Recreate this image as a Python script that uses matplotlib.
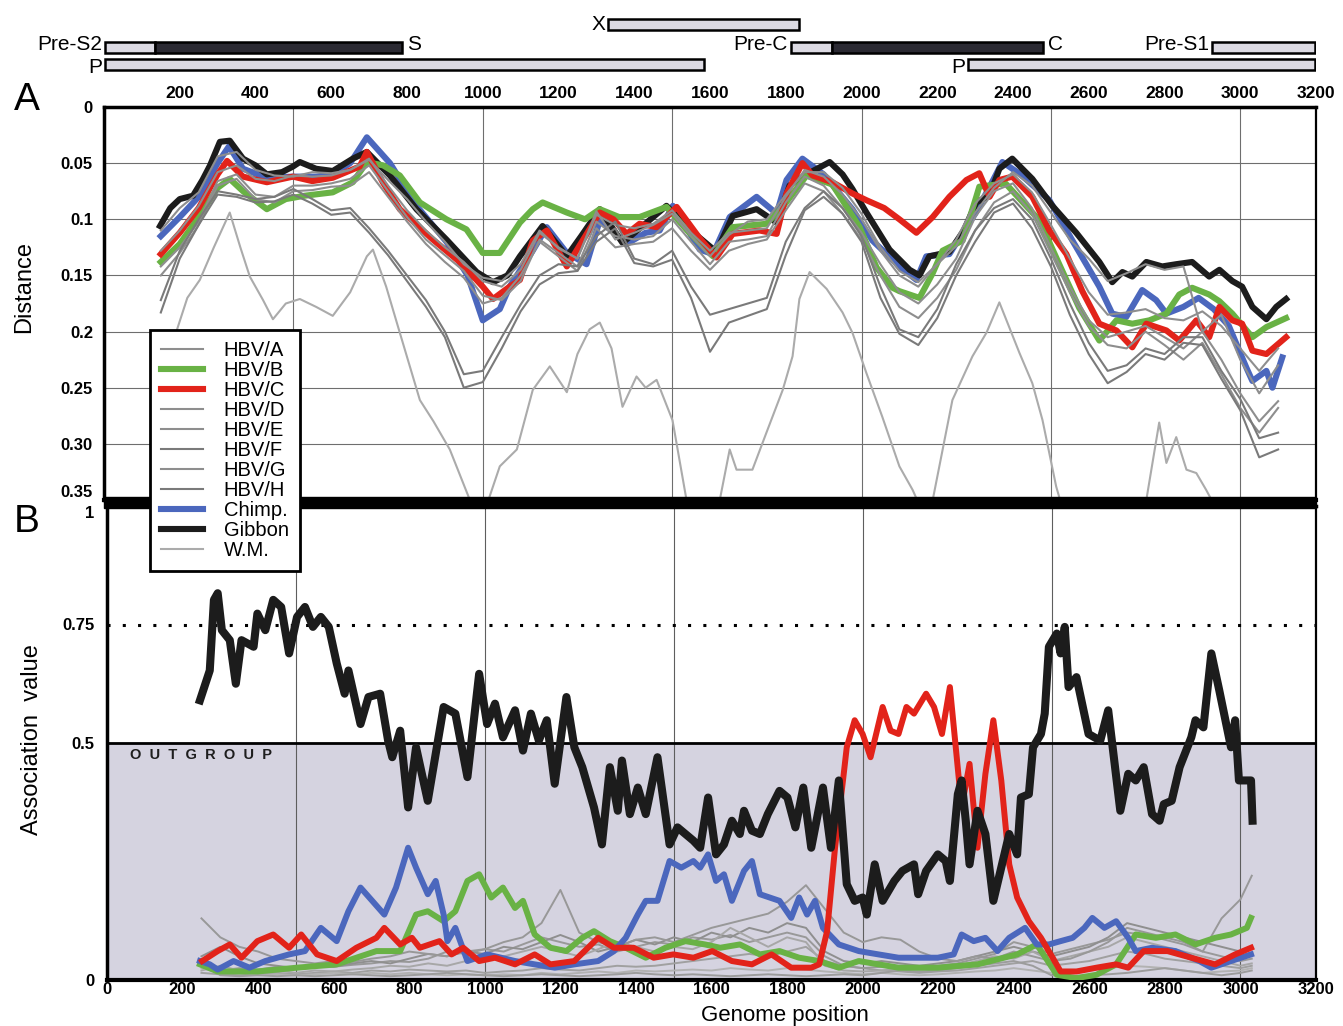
import matplotlib.pyplot as plt
from matplotlib.patches import Rectangle

plt.rcParams['font.family'] = ['Liberation Sans', 'DejaVu Sans']

# ---------------- genome map ----------------
gene_names = ["X", "Pre-S2", "S", "P", "Pre-C", "C", "Pre-S1", "P"]
gene_start = [1330, 3, 135, 3, 1813, 1923, 2926, 2282]
gene_end = [1836, 135, 786, 1583, 1923, 2478, 3198, 3198]
gene_row = [0, 1, 1, 2, 1, 1, 1, 2]
gene_dark = [False, False, True, False, False, True, False, False]
gene_label_side = ["left", "left", "right", "left", "left", "right", "left", "left"]

# ---------------- panel A: distance ----------------
gibbon_a_pos = [148, 175, 200, 235, 260, 280, 306, 332, 367, 400,
                430, 470, 499, 517, 560, 604, 657, 694, 755, 825,
                904, 984, 1027, 1065, 1098, 1158, 1222, 1260, 1309, 1369,
                1422, 1485, 1546, 1617, 1660, 1723, 1776, 1810, 1855, 1916,
                1950, 1976, 2013, 2074, 2127, 2153, 2179, 2232, 2270, 2303,
                2338, 2364, 2398, 2451, 2504, 2567, 2628, 2662, 2689, 2715,
                2752, 2794, 2831, 2873, 2918, 2945, 2979, 3005, 3032, 3069,
                3095, 3121]
gibbon_a = [0.106, 0.090, 0.082, 0.079, 0.065, 0.052, 0.031, 0.030, 0.046, 0.052,
            0.060, 0.058, 0.053, 0.049, 0.055, 0.057, 0.046, 0.040, 0.061, 0.091,
            0.118, 0.147, 0.156, 0.150, 0.133, 0.106, 0.133, 0.115, 0.091, 0.121,
            0.106, 0.088, 0.109, 0.129, 0.097, 0.091, 0.103, 0.070, 0.060, 0.049,
            0.060, 0.073, 0.094, 0.127, 0.145, 0.150, 0.133, 0.129, 0.110, 0.085,
            0.079, 0.055, 0.046, 0.064, 0.088, 0.112, 0.138, 0.156, 0.147, 0.151,
            0.138, 0.142, 0.140, 0.138, 0.151, 0.145, 0.155, 0.160, 0.178, 0.189,
            0.178, 0.171]

hbvc_a_pos = [150, 200, 250, 300, 325, 367, 430, 499, 550, 604,
              675, 694, 736, 781, 868, 939, 1000, 1027, 1071, 1098,
              1132, 1169, 1222, 1309, 1345, 1380, 1414, 1459, 1512, 1573,
              1617, 1660, 1731, 1776, 1802, 1844, 1871, 1923, 1976, 2013,
              2060, 2100, 2145, 2188, 2232, 2277, 2311, 2338, 2364, 2398,
              2451, 2496, 2541, 2583, 2628, 2673, 2715, 2752, 2805, 2839,
              2884, 2918, 2945, 2979, 3005, 3032, 3069, 3121]
hbvc_a = [0.131, 0.112, 0.090, 0.060, 0.048, 0.062, 0.067, 0.062, 0.066, 0.063,
          0.053, 0.040, 0.067, 0.091, 0.118, 0.138, 0.160, 0.171, 0.160, 0.154,
          0.119, 0.110, 0.142, 0.094, 0.100, 0.113, 0.104, 0.107, 0.089, 0.117,
          0.134, 0.113, 0.110, 0.113, 0.077, 0.050, 0.061, 0.067, 0.077, 0.083,
          0.090, 0.100, 0.112, 0.098, 0.080, 0.065, 0.059, 0.080, 0.065, 0.062,
          0.080, 0.110, 0.131, 0.164, 0.193, 0.199, 0.214, 0.193, 0.199, 0.208,
          0.190, 0.205, 0.178, 0.190, 0.193, 0.217, 0.220, 0.205]

chimp_a_pos = [150, 200, 250, 300, 330, 367, 430, 499, 560, 604,
               650, 694, 755, 825, 904, 960, 1000, 1045, 1071, 1132,
               1169, 1222, 1274, 1309, 1380, 1430, 1467, 1502, 1573, 1608,
               1652, 1723, 1776, 1802, 1844, 1900, 1976, 2029, 2082, 2100,
               2145, 2171, 2232, 2300, 2340, 2372, 2420, 2496, 2557, 2628,
               2662, 2699, 2741, 2778, 2805, 2850, 2890, 2930, 2970, 3016,
               3032, 3069, 3085, 3111]
chimp_a = [0.115, 0.098, 0.080, 0.050, 0.035, 0.055, 0.063, 0.062, 0.062, 0.060,
           0.050, 0.027, 0.050, 0.088, 0.120, 0.150, 0.190, 0.180, 0.160, 0.128,
           0.107, 0.130, 0.140, 0.101, 0.122, 0.112, 0.110, 0.088, 0.127, 0.131,
           0.098, 0.080, 0.095, 0.065, 0.046, 0.060, 0.091, 0.119, 0.136, 0.142,
           0.154, 0.133, 0.131, 0.095, 0.070, 0.049, 0.060, 0.083, 0.119, 0.160,
           0.184, 0.187, 0.163, 0.172, 0.184, 0.178, 0.170, 0.180, 0.195, 0.232,
           0.244, 0.235, 0.250, 0.223]

hbvb_a_pos = [150, 200, 250, 300, 332, 367, 430, 480, 530, 604,
              657, 694, 737, 781, 834, 904, 957, 1000, 1045, 1098,
              1132, 1158, 1222, 1270, 1309, 1360, 1414, 1485, 1540, 1608,
              1660, 1749, 1792, 1855, 1923, 1995, 2040, 2082, 2100, 2153,
              2188, 2214, 2267, 2303, 2311, 2380, 2470, 2522, 2575, 2628,
              2673, 2715, 2760, 2805, 2839, 2873, 2918, 2945, 2979, 3032,
              3069, 3121]
hbvb_a = [0.138, 0.122, 0.098, 0.072, 0.064, 0.075, 0.091, 0.082, 0.079, 0.076,
          0.067, 0.049, 0.052, 0.061, 0.085, 0.100, 0.109, 0.130, 0.130, 0.103,
          0.091, 0.085, 0.094, 0.100, 0.091, 0.098, 0.098, 0.089, 0.110, 0.133,
          0.107, 0.104, 0.089, 0.061, 0.069, 0.107, 0.143, 0.161, 0.164, 0.170,
          0.148, 0.128, 0.119, 0.080, 0.071, 0.068, 0.101, 0.140, 0.179, 0.208,
          0.190, 0.193, 0.190, 0.184, 0.167, 0.161, 0.167, 0.173, 0.184, 0.205,
          0.196, 0.188]

# remaining genotypes, read every 50 nt from 150 to 3100
grey_a_pos = list(range(150, 3101, 50))
hbva_a = [0.128, 0.110, 0.088, 0.058, 0.052, 0.064, 0.066, 0.061, 0.062, 0.061,
          0.056, 0.046, 0.070, 0.092, 0.110, 0.125, 0.138, 0.155, 0.160, 0.145,
          0.112, 0.125, 0.135, 0.096, 0.105, 0.108, 0.104, 0.092, 0.112, 0.128,
          0.112, 0.110, 0.108, 0.080, 0.056, 0.062, 0.078, 0.100, 0.128, 0.150,
          0.160, 0.140, 0.118, 0.086, 0.068, 0.060, 0.076, 0.105, 0.135, 0.165,
          0.185, 0.183, 0.180, 0.188, 0.190, 0.182, 0.195, 0.215, 0.235, 0.215]
hbvd_a = [0.142, 0.125, 0.102, 0.066, 0.060, 0.078, 0.080, 0.070, 0.070, 0.068,
          0.064, 0.052, 0.075, 0.098, 0.118, 0.132, 0.146, 0.168, 0.172, 0.155,
          0.118, 0.130, 0.142, 0.102, 0.115, 0.118, 0.115, 0.100, 0.120, 0.140,
          0.120, 0.118, 0.115, 0.085, 0.062, 0.070, 0.090, 0.112, 0.140, 0.165,
          0.175, 0.158, 0.135, 0.098, 0.075, 0.068, 0.090, 0.125, 0.160, 0.190,
          0.205, 0.200, 0.195, 0.205, 0.215, 0.200, 0.225, 0.255, 0.280, 0.262]
hbve_a = [0.150, 0.130, 0.105, 0.070, 0.064, 0.082, 0.085, 0.075, 0.074, 0.071,
          0.070, 0.058, 0.080, 0.102, 0.122, 0.138, 0.152, 0.175, 0.170, 0.150,
          0.120, 0.133, 0.146, 0.108, 0.125, 0.122, 0.120, 0.108, 0.128, 0.145,
          0.128, 0.122, 0.118, 0.092, 0.068, 0.075, 0.095, 0.118, 0.150, 0.178,
          0.188, 0.170, 0.145, 0.110, 0.085, 0.075, 0.095, 0.130, 0.165, 0.195,
          0.212, 0.215, 0.200, 0.212, 0.225, 0.210, 0.238, 0.268, 0.290, 0.268]
hbvf_a = [0.172, 0.128, 0.100, 0.075, 0.078, 0.082, 0.080, 0.073, 0.082, 0.092,
          0.090, 0.108, 0.128, 0.150, 0.172, 0.200, 0.238, 0.235, 0.205, 0.176,
          0.150, 0.140, 0.142, 0.115, 0.102, 0.135, 0.140, 0.128, 0.160, 0.185,
          0.180, 0.175, 0.170, 0.120, 0.090, 0.075, 0.090, 0.115, 0.160, 0.198,
          0.205, 0.180, 0.140, 0.110, 0.090, 0.082, 0.100, 0.135, 0.175, 0.210,
          0.235, 0.230, 0.215, 0.220, 0.205, 0.205, 0.235, 0.260, 0.295, 0.290]
hbvg_a = [0.110, 0.090, 0.076, 0.044, 0.040, 0.056, 0.061, 0.062, 0.058, 0.059,
          0.056, 0.047, 0.065, 0.082, 0.102, 0.120, 0.140, 0.152, 0.155, 0.140,
          0.110, 0.126, 0.135, 0.093, 0.118, 0.112, 0.105, 0.095, 0.115, 0.133,
          0.114, 0.102, 0.100, 0.078, 0.058, 0.058, 0.072, 0.095, 0.125, 0.146,
          0.156, 0.140, 0.124, 0.094, 0.072, 0.058, 0.070, 0.094, 0.118, 0.135,
          0.155, 0.148, 0.140, 0.145, 0.142, 0.200, 0.185, 0.225, 0.255, 0.230]
hbvh_a = [0.183, 0.135, 0.105, 0.078, 0.080, 0.085, 0.084, 0.078, 0.086, 0.096,
          0.094, 0.112, 0.132, 0.155, 0.178, 0.205, 0.250, 0.245, 0.215, 0.182,
          0.158, 0.148, 0.146, 0.120, 0.108, 0.139, 0.142, 0.136, 0.170, 0.218,
          0.192, 0.186, 0.180, 0.132, 0.092, 0.080, 0.095, 0.120, 0.170, 0.202,
          0.212, 0.188, 0.150, 0.120, 0.094, 0.086, 0.108, 0.142, 0.185, 0.220,
          0.246, 0.236, 0.220, 0.225, 0.210, 0.212, 0.242, 0.270, 0.312, 0.305]

wm_a_pos = [150, 193, 220, 253, 290, 332, 360, 385, 420, 446,
            480, 517, 560, 604, 650, 694, 710, 745, 781, 834,
            870, 913, 966, 1000, 1045, 1090, 1132, 1177, 1222, 1250,
            1282, 1309, 1340, 1369, 1406, 1430, 1459, 1501, 1538, 1580,
            1620, 1652, 1670, 1712, 1749, 1792, 1818, 1836, 1863, 1908,
            1950, 1976, 2013, 2055, 2100, 2135, 2160, 2188, 2240, 2293,
            2330, 2364, 2417, 2451, 2478, 2514, 2550, 2650, 2752, 2786,
            2805, 2831, 2858, 2884, 2910, 2940]
wm_a = [0.262, 0.198, 0.170, 0.154, 0.125, 0.094, 0.125, 0.151, 0.172, 0.189,
        0.175, 0.171, 0.178, 0.186, 0.165, 0.133, 0.127, 0.160, 0.201, 0.261,
        0.280, 0.305, 0.350, 0.365, 0.320, 0.305, 0.252, 0.231, 0.254, 0.220,
        0.198, 0.192, 0.215, 0.267, 0.240, 0.250, 0.243, 0.279, 0.350, 0.380,
        0.360, 0.305, 0.323, 0.323, 0.290, 0.252, 0.222, 0.171, 0.147, 0.162,
        0.183, 0.201, 0.237, 0.276, 0.320, 0.341, 0.360, 0.350, 0.261, 0.222,
        0.201, 0.174, 0.219, 0.246, 0.279, 0.338, 0.380, 0.390, 0.350, 0.281,
        0.317, 0.294, 0.323, 0.326, 0.341, 0.360]

# ---------------- panel B: association value ----------------
gibbon_b_pos = [246, 272, 283, 293, 304, 325, 341, 356, 388, 398,
                419, 440, 461, 482, 503, 524, 545, 566, 587, 608,
                629, 639, 671, 692, 723, 744, 755, 776, 797, 818,
                849, 891, 922, 954, 985, 1006, 1027, 1048, 1080, 1101,
                1122, 1143, 1164, 1185, 1216, 1237, 1258, 1289, 1310, 1331,
                1352, 1363, 1384, 1405, 1426, 1457, 1489, 1510, 1552, 1570,
                1591, 1612, 1633, 1654, 1675, 1686, 1707, 1728, 1749, 1780,
                1801, 1822, 1843, 1864, 1895, 1916, 1937, 1958, 1979, 2000,
                2011, 2032, 2053, 2084, 2105, 2136, 2147, 2168, 2199, 2220,
                2231, 2252, 2262, 2273, 2283, 2304, 2325, 2346, 2367, 2388,
                2409, 2419, 2440, 2451, 2472, 2482, 2493, 2514, 2524, 2535,
                2545, 2566, 2598, 2629, 2650, 2682, 2703, 2723, 2744, 2766,
                2786, 2797, 2818, 2839, 2870, 2881, 2902, 2923, 2944, 2975,
                2986, 2996, 3028, 3032]
gibbon_b = [0.590, 0.653, 0.802, 0.816, 0.738, 0.717, 0.625, 0.717, 0.703, 0.773,
            0.738, 0.802, 0.787, 0.689, 0.766, 0.787, 0.745, 0.766, 0.745, 0.668,
            0.604, 0.653, 0.540, 0.597, 0.604, 0.505, 0.470, 0.526, 0.364, 0.491,
            0.378, 0.576, 0.562, 0.428, 0.646, 0.540, 0.583, 0.512, 0.569, 0.484,
            0.562, 0.505, 0.548, 0.414, 0.597, 0.491, 0.449, 0.364, 0.286, 0.449,
            0.357, 0.463, 0.350, 0.406, 0.350, 0.470, 0.286, 0.322, 0.294, 0.279,
            0.385, 0.265, 0.286, 0.336, 0.308, 0.357, 0.315, 0.308, 0.350, 0.399,
            0.385, 0.322, 0.406, 0.279, 0.406, 0.279, 0.421, 0.202, 0.167, 0.174,
            0.138, 0.244, 0.167, 0.209, 0.230, 0.244, 0.181, 0.230, 0.265, 0.251,
            0.209, 0.392, 0.421, 0.336, 0.244, 0.357, 0.308, 0.167, 0.237, 0.308,
            0.265, 0.385, 0.392, 0.491, 0.519, 0.562, 0.703, 0.731, 0.689, 0.745,
            0.618, 0.639, 0.519, 0.505, 0.569, 0.357, 0.435, 0.421, 0.449, 0.350,
            0.336, 0.371, 0.378, 0.449, 0.512, 0.548, 0.533, 0.689, 0.611, 0.491,
            0.548, 0.421, 0.421, 0.336]

hbvc_b_pos = [252, 293, 325, 356, 398, 440, 482, 514, 556, 608,
              660, 713, 734, 776, 807, 828, 880, 912, 943, 985,
              1027, 1080, 1132, 1174, 1237, 1300, 1342, 1394, 1447, 1499,
              1552, 1602, 1654, 1707, 1759, 1811, 1864, 1885, 1906, 1927,
              1948, 1958, 1979, 2000, 2021, 2053, 2074, 2095, 2116, 2136,
              2168, 2189, 2210, 2231, 2262, 2283, 2304, 2325, 2346, 2367,
              2388, 2409, 2440, 2472, 2503, 2524, 2566, 2619, 2671, 2703,
              2744, 2807, 2870, 2933, 2986, 3028]
hbvc_b = [0.040, 0.061, 0.075, 0.047, 0.082, 0.096, 0.068, 0.096, 0.054, 0.040,
          0.068, 0.089, 0.110, 0.075, 0.089, 0.068, 0.082, 0.054, 0.068, 0.040,
          0.047, 0.033, 0.054, 0.033, 0.040, 0.089, 0.068, 0.068, 0.047, 0.054,
          0.047, 0.061, 0.040, 0.033, 0.054, 0.026, 0.026, 0.033, 0.103, 0.279,
          0.421, 0.491, 0.548, 0.519, 0.470, 0.576, 0.526, 0.519, 0.576, 0.562,
          0.604, 0.576, 0.519, 0.618, 0.364, 0.456, 0.279, 0.435, 0.548, 0.421,
          0.244, 0.174, 0.124, 0.089, 0.047, 0.018, 0.018, 0.026, 0.033, 0.026,
          0.061, 0.061, 0.047, 0.033, 0.054, 0.068]

chimp_b_pos = [246, 272, 293, 335, 377, 419, 482, 524, 566, 608,
               639, 671, 702, 734, 765, 797, 818, 849, 870, 891,
               901, 922, 954, 1006, 1080, 1132, 1185, 1237, 1300, 1342,
               1373, 1405, 1426, 1457, 1489, 1520, 1552, 1570, 1591, 1612,
               1633, 1654, 1686, 1707, 1728, 1780, 1811, 1832, 1853, 1874,
               1895, 1937, 1990, 2042, 2095, 2147, 2199, 2241, 2262, 2294,
               2325, 2357, 2388, 2430, 2461, 2493, 2524, 2556, 2587, 2608,
               2640, 2671, 2703, 2723, 2766, 2828, 2891, 2923, 2975, 3028]
chimp_b = [0.040, 0.033, 0.022, 0.040, 0.026, 0.040, 0.054, 0.061, 0.110, 0.082,
           0.145, 0.195, 0.167, 0.138, 0.195, 0.279, 0.237, 0.181, 0.209, 0.138,
           0.082, 0.110, 0.040, 0.054, 0.040, 0.033, 0.026, 0.033, 0.040, 0.061,
           0.089, 0.138, 0.167, 0.167, 0.251, 0.237, 0.251, 0.237, 0.265, 0.209,
           0.223, 0.167, 0.230, 0.251, 0.181, 0.167, 0.131, 0.174, 0.138, 0.167,
           0.110, 0.075, 0.061, 0.054, 0.047, 0.047, 0.047, 0.054, 0.096, 0.082,
           0.089, 0.061, 0.089, 0.110, 0.075, 0.075, 0.082, 0.089, 0.110, 0.131,
           0.110, 0.124, 0.089, 0.061, 0.068, 0.061, 0.040, 0.026, 0.040, 0.054]

hbvb_b_pos = [246, 293, 398, 503, 608, 660, 713, 776, 818, 849,
              891, 922, 954, 985, 1017, 1048, 1080, 1101, 1132, 1174,
              1216, 1258, 1289, 1331, 1373, 1426, 1478, 1531, 1583, 1623,
              1675, 1728, 1780, 1832, 1885, 1937, 1990, 2042, 2095, 2199,
              2304, 2409, 2461, 2514, 2566, 2619, 2671, 2723, 2776, 2828,
              2881, 2933, 2975, 3017, 3028]
hbvb_b = [0.033, 0.018, 0.018, 0.026, 0.033, 0.047, 0.061, 0.061, 0.138, 0.145,
          0.124, 0.145, 0.209, 0.223, 0.174, 0.195, 0.152, 0.167, 0.096, 0.068,
          0.061, 0.089, 0.103, 0.082, 0.068, 0.047, 0.068, 0.082, 0.075, 0.068,
          0.075, 0.054, 0.061, 0.047, 0.040, 0.026, 0.040, 0.033, 0.026, 0.026,
          0.033, 0.054, 0.075, 0.011, 0.004, 0.011, 0.033, 0.096, 0.089, 0.096,
          0.075, 0.089, 0.096, 0.110, 0.131]

# remaining genotypes, read every 50 nt from 250 to 3000, then the last window
grey_b_pos = list(range(250, 3001, 50)) + [3030]
wm_b = [0.130, 0.090, 0.070, 0.060, 0.045, 0.040, 0.035, 0.040, 0.038, 0.045,
        0.050, 0.060, 0.055, 0.050, 0.060, 0.065, 0.080, 0.090, 0.120, 0.190,
        0.100, 0.080, 0.070, 0.085, 0.090, 0.080, 0.095, 0.110, 0.120, 0.130,
        0.140, 0.165, 0.200, 0.150, 0.100, 0.080, 0.090, 0.085, 0.060, 0.045,
        0.040, 0.050, 0.045, 0.060, 0.050, 0.040, 0.045, 0.060, 0.080, 0.110,
        0.100, 0.090, 0.080, 0.060, 0.130, 0.170, 0.220]
hbve_b = [0.050, 0.070, 0.050, 0.035, 0.030, 0.025, 0.030, 0.028, 0.035, 0.040,
          0.035, 0.045, 0.055, 0.050, 0.060, 0.055, 0.070, 0.065, 0.080, 0.095,
          0.080, 0.060, 0.070, 0.085, 0.075, 0.090, 0.080, 0.100, 0.090, 0.110,
          0.100, 0.120, 0.110, 0.060, 0.040, 0.035, 0.040, 0.035, 0.030, 0.035,
          0.040, 0.050, 0.060, 0.070, 0.060, 0.050, 0.060, 0.070, 0.090, 0.120,
          0.110, 0.100, 0.090, 0.080, 0.070, 0.060, 0.070]
hbvf_b = [0.020, 0.030, 0.020, 0.018, 0.020, 0.015, 0.020, 0.018, 0.022, 0.025,
          0.030, 0.028, 0.035, 0.030, 0.040, 0.045, 0.050, 0.060, 0.070, 0.060,
          0.050, 0.065, 0.080, 0.070, 0.060, 0.070, 0.065, 0.080, 0.110, 0.090,
          0.070, 0.090, 0.080, 0.030, 0.020, 0.018, 0.020, 0.025, 0.022, 0.025,
          0.030, 0.040, 0.050, 0.045, 0.060, 0.040, 0.050, 0.060, 0.070, 0.090,
          0.080, 0.070, 0.060, 0.050, 0.040, 0.030, 0.035]
hbva_b = [0.015, 0.012, 0.010, 0.012, 0.015, 0.012, 0.015, 0.018, 0.015, 0.020,
          0.018, 0.022, 0.020, 0.018, 0.020, 0.015, 0.018, 0.020, 0.025, 0.022,
          0.020, 0.025, 0.030, 0.028, 0.030, 0.035, 0.040, 0.045, 0.050, 0.055,
          0.050, 0.060, 0.070, 0.040, 0.030, 0.025, 0.020, 0.018, 0.015, 0.018,
          0.020, 0.025, 0.030, 0.035, 0.040, 0.030, 0.035, 0.040, 0.050, 0.060,
          0.055, 0.045, 0.040, 0.035, 0.030, 0.025, 0.030]
hbvd_b = [0.030, 0.020, 0.025, 0.022, 0.028, 0.025, 0.030, 0.028, 0.032, 0.035,
          0.040, 0.038, 0.045, 0.060, 0.055, 0.065, 0.060, 0.075, 0.090, 0.080,
          0.070, 0.075, 0.060, 0.070, 0.080, 0.075, 0.090, 0.085, 0.095, 0.080,
          0.090, 0.100, 0.090, 0.050, 0.030, 0.025, 0.028, 0.030, 0.028, 0.030,
          0.035, 0.045, 0.055, 0.080, 0.070, 0.055, 0.065, 0.075, 0.085, 0.100,
          0.095, 0.085, 0.075, 0.060, 0.050, 0.040, 0.045]
hbvg_b = [0.025, 0.015, 0.018, 0.010, 0.012, 0.010, 0.012, 0.015, 0.012, 0.015,
          0.012, 0.015, 0.012, 0.010, 0.012, 0.010, 0.012, 0.010, 0.015, 0.012,
          0.015, 0.018, 0.015, 0.020, 0.018, 0.020, 0.022, 0.020, 0.025, 0.022,
          0.020, 0.025, 0.022, 0.018, 0.015, 0.012, 0.015, 0.012, 0.010, 0.012,
          0.015, 0.018, 0.020, 0.025, 0.020, 0.015, 0.018, 0.020, 0.025, 0.030,
          0.028, 0.025, 0.020, 0.015, 0.018, 0.020, 0.025]
hbvh_b = [0.040, 0.010, 0.008, 0.010, 0.008, 0.010, 0.008, 0.010, 0.012, 0.010,
          0.008, 0.010, 0.012, 0.015, 0.012, 0.010, 0.008, 0.010, 0.012, 0.010,
          0.008, 0.010, 0.012, 0.015, 0.012, 0.010, 0.012, 0.010, 0.008, 0.010,
          0.012, 0.010, 0.008, 0.010, 0.012, 0.010, 0.015, 0.020, 0.018, 0.020,
          0.025, 0.030, 0.035, 0.040, 0.030, 0.010, 0.008, 0.010, 0.012, 0.015,
          0.020, 0.025, 0.020, 0.015, 0.010, 0.015, 0.020]

GREEN = '#69b245'
RED = '#e2231a'
BLUE = '#4b67bd'
BLACK = '#1c1c1c'
GREY = '#8e8e8e'
GREY_DARK = '#7a7a7a'
GREY_LIGHT = '#ababab'
SHADE = '#d5d3e0'
GRID_AT = [500, 1000, 1500, 2000, 2500, 3000]

W, H = 1343, 1026


def box(left, top, right, bottom):
    return [left / W, 1 - bottom / H, (right - left) / W, (bottom - top) / H]


fig = plt.figure(figsize=(W / 100, H / 100), dpi=100)
ax_map = fig.add_axes(box(104, 12, 1316, 76))
ax_a = fig.add_axes(box(104, 107, 1316, 500))
ax_b = fig.add_axes(box(107, 506, 1316, 980))

# genome map bars; labels of the middle row sit a little high, bottom row a little low
row_y = [24.5, 47.5, 64.5]
row_nudge = [0, 2.5, -2.5]
for name, s, e, r, dark, side in zip(gene_names, gene_start, gene_end, gene_row,
                                     gene_dark, gene_label_side):
    ax_map.barh(row_y[r], e - s, left=s, height=11,
                color='#2b2a33' if dark else '#dcdae3',
                edgecolor='black', linewidth=1.8)
    if side == 'left':
        ax_map.annotate(name, (s, row_y[r]), xytext=(-2, row_nudge[r]),
                        textcoords='offset points', ha='right', va='center', fontsize=15)
    else:
        ax_map.annotate(name, (e, row_y[r]), xytext=(4, row_nudge[r]),
                        textcoords='offset points', ha='left', va='center', fontsize=15)
ax_map.set_xlim(0, 3200)
ax_map.set_ylim(76, 12)
ax_map.axis('off')

# panel A
thick_a = 4.4
ax_a.plot(chimp_a_pos, chimp_a, color=BLUE, lw=thick_a, label='Chimp.', zorder=3)
ax_a.plot(gibbon_a_pos, gibbon_a, color=BLACK, lw=thick_a, label='Gibbon', zorder=3)
ax_a.plot(hbvb_a_pos, hbvb_a, color=GREEN, lw=thick_a, label='HBV/B', zorder=3)
ax_a.plot(hbvc_a_pos, hbvc_a, color=RED, lw=thick_a, label='HBV/C', zorder=3)
ax_a.plot(wm_a_pos, wm_a, color=GREY_LIGHT, lw=1.5, label='W.M.', zorder=4)
grey_series_a = [('HBV/A', hbva_a, GREY), ('HBV/D', hbvd_a, GREY), ('HBV/E', hbve_a, GREY),
                 ('HBV/F', hbvf_a, GREY_DARK), ('HBV/G', hbvg_a, GREY),
                 ('HBV/H', hbvh_a, GREY_DARK)]
for name, vals, col in grey_series_a:
    ax_a.plot(grey_a_pos, vals, color=col, lw=1.5, label=name, zorder=4)

ax_a.set_xlim(0, 3200)
ax_a.set_ylim(0.35, 0)
ax_a.xaxis.tick_top()
ax_a.set_xticks(range(200, 3201, 200))
ax_a.tick_params(axis='x', length=0, pad=4, labelsize=12.5)
ax_a.set_yticks([0, 0.05, 0.1, 0.15, 0.2, 0.25, 0.30, 0.35])
ax_a.set_yticklabels(['0', '0.05', '0.1', '0.15', '0.2', '0.25', '0.30', '0.35'])
ax_a.tick_params(axis='y', length=0, pad=8, labelsize=12)
ax_a.grid(axis='y', color='#6e6e6e', lw=0.8)
for g in GRID_AT:
    ax_a.axvline(g, color='#6e6e6e', lw=0.8, zorder=0.5)
ax_a.set_axisbelow(True)
for lab in ax_a.get_xticklabels() + ax_a.get_yticklabels():
    lab.set_fontweight('bold')
ax_a.get_yticklabels()[-1].set_va('bottom')

# panel B
ax_b.axhspan(0, 0.5, color=SHADE, zorder=0)
for g in GRID_AT:
    ax_b.axvline(g, color='#5e5e5e', lw=0.8, zorder=0.5)
ax_b.axhline(0.5, color='black', lw=2, zorder=1)
ax_b.axhline(0.75, color='black', lw=2.2, ls=(0, (1, 4)), zorder=1)
grey_series_b = [('HBV/A', hbva_b, '#a0a0a0'), ('HBV/D', hbvd_b, '#999999'),
                 ('HBV/E', hbve_b, '#8f8f8f'), ('HBV/F', hbvf_b, '#a7a7a7'),
                 ('HBV/G', hbvg_b, '#b2b2b2'), ('HBV/H', hbvh_b, '#9c9c9c'),
                 ('W.M.', wm_b, '#989898')]
for name, vals, col in grey_series_b:
    ax_b.plot(grey_b_pos, vals, color=col, lw=1.4, zorder=2)
ax_b.plot(hbvb_b_pos, hbvb_b, color=GREEN, lw=4.3, zorder=3)
ax_b.plot(chimp_b_pos, chimp_b, color=BLUE, lw=4.3, zorder=3)
ax_b.plot(hbvc_b_pos, hbvc_b, color=RED, lw=4.3, zorder=3)
ax_b.plot(gibbon_b_pos, gibbon_b, color=BLACK, lw=5.8, zorder=4)
ax_b.text(60, 0.475, 'O  U  T  G  R  O  U  P', fontsize=10.5, fontweight='bold',
          color='#1e1e1e', va='center', ha='left')

ax_b.set_xlim(0, 3200)
ax_b.set_ylim(0, 1)
ax_b.set_xticks(range(0, 3201, 200))
ax_b.tick_params(axis='x', length=0, pad=1.5, labelsize=12)
ax_b.set_yticks([0, 0.5, 0.75, 1])
ax_b.set_yticklabels(['0', '0.5', '0.75', '1'])
ax_b.tick_params(axis='y', length=0, pad=9, labelsize=12)
for lab in ax_b.get_xticklabels() + ax_b.get_yticklabels():
    lab.set_fontweight('bold')
ax_b.get_yticklabels()[-1].set_va('top')

for ax in (ax_a, ax_b):
    for side, lw in (('left', 2.5), ('top', 2.5), ('right', 1.6), ('bottom', 3)):
        ax.spines[side].set_linewidth(lw)

# heavy band between the two panels
fig.add_artist(Rectangle((104 / W, 1 - 508 / H), (1316 - 104) / W, 11 / H,
                         transform=fig.transFigure, color='black', zorder=2))

# legend
order = ['HBV/A', 'HBV/B', 'HBV/C', 'HBV/D', 'HBV/E', 'HBV/F', 'HBV/G', 'HBV/H',
         'Chimp.', 'Gibbon', 'W.M.']
by_label = {ln.get_label(): ln for ln in ax_a.get_lines()}
leg = fig.legend([by_label[k] for k in order], order, loc='upper left',
                 bbox_to_anchor=(150 / W, 1 - 330 / H), borderaxespad=0,
                 fancybox=False, edgecolor='black', framealpha=1, fontsize=14.5,
                 handlelength=2.1, handletextpad=1.0, labelspacing=0.05,
                 borderpad=0.55)
leg.get_frame().set_linewidth(2)
leg.set_zorder(10)

# panel letters and axis titles
fig.text(27 / W, 1 - 100 / H, 'A', fontsize=28, ha='center', va='center')
fig.text(27 / W, 1 - 522 / H, 'B', fontsize=28, ha='center', va='center')
fig.text(24 / W, 1 - 287 / H, 'Distance', rotation=90, fontsize=17,
         ha='center', va='center', family=['Liberation Sans Narrow', 'Liberation Sans'])
fig.text(32 / W, 1 - 740 / H, 'Association  value', rotation=90, fontsize=17,
         ha='center', va='center', family=['Liberation Sans Narrow', 'Liberation Sans'])
fig.text(785 / W, 1 - 1021 / H, 'Genome position', fontsize=16, ha='center', va='baseline')

fig.savefig('out.png', dpi=100)
